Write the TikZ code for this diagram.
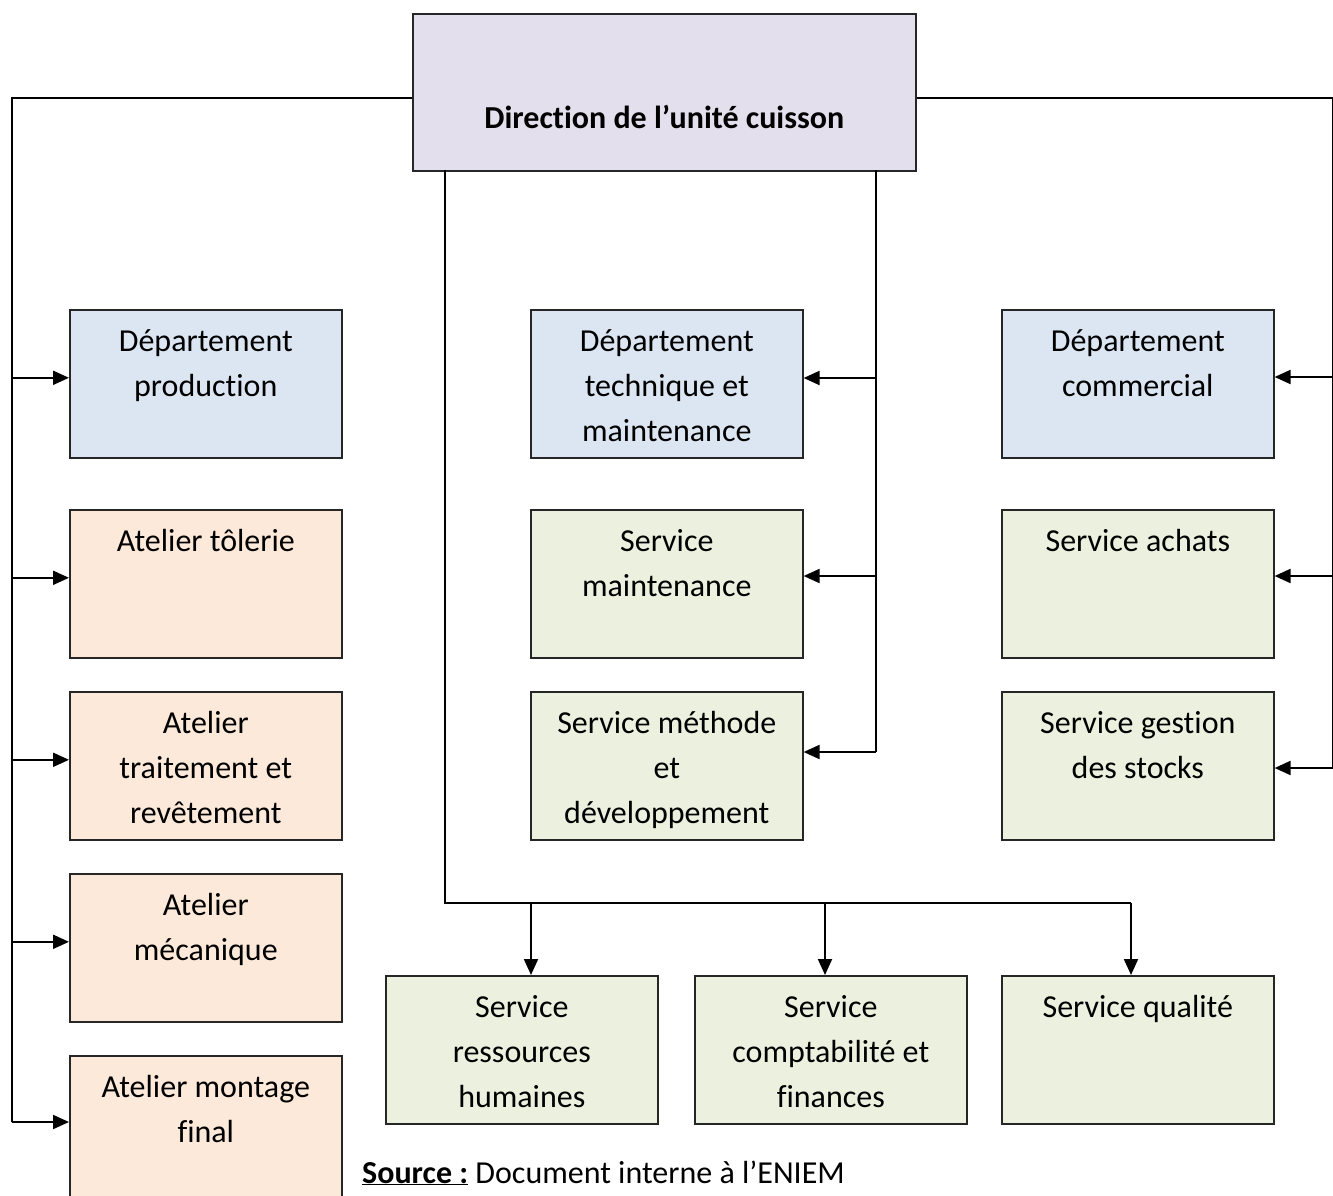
\documentclass[tikz,border=0pt]{standalone}
\usepackage{fontspec}
\setmainfont[Ligatures={NoCommon}]{Carlito}
\usetikzlibrary{arrows.meta}
\definecolor{lavf}{HTML}{E4DFEC}
\definecolor{bluef}{HTML}{DCE6F2}
\definecolor{peachf}{HTML}{FDE9D9}
\definecolor{greenf}{HTML}{EBF1DE}
\newcommand{\firstline}{\rule{0pt}{30pt}}
\begin{document}
\begin{tikzpicture}[x=1pt,y=-1pt,
  box/.style={draw=black!85, line width=1.6pt, inner sep=0pt, minimum width=272pt, minimum height=148pt, anchor=north west},
  txt/.style={align=center, anchor=north, inner sep=0pt, font=\fontsize{32}{45}\selectfont},
  conn/.style={draw=black, line width=2pt},
  arr/.style={conn, -{Triangle[length=16pt,width=14pt]}}]
\clip (0,0) rectangle (1333,1196);
% top
\node[draw=black!85, line width=1.6pt, fill=lavf, minimum width=503pt, minimum height=157pt, anchor=north west, inner sep=0pt] (dir) at (412,13) {};
\node[align=center, anchor=base, inner sep=0pt, font=\fontsize{32}{45}\selectfont\bfseries] at ([yshift=-36pt]dir.center) {Direction de l’unité cuisson};
% left column
\node[box, fill=bluef] (prod) at (69,309) {};
\node[box, fill=peachf] (tol) at (69,509) {};
\node[box, fill=peachf] (trait) at (69,691) {};
\node[box, fill=peachf] (meca) at (69,873) {};
\node[box, fill=peachf] (mont) at (69,1055) {};
% middle column
\node[box, fill=bluef] (tech) at (530,309) {};
\node[box, fill=greenf] (maint) at (530,509) {};
\node[box, fill=greenf] (meth) at (530,691) {};
% right column
\node[box, fill=bluef] (comm) at (1001,309) {};
\node[box, fill=greenf] (achat) at (1001,509) {};
\node[box, fill=greenf] (stock) at (1001,691) {};
% bottom row
\node[box, fill=greenf] (rh) at (385,975) {};
\node[box, fill=greenf] (compta) at (694,975) {};
\node[box, fill=greenf] (qual) at (1001,975) {};
% texts
\node[txt] at ([yshift=-12pt]prod.north) {\firstline Département\\production};
\node[txt] at ([yshift=-12pt]tol.north) {\firstline Atelier tôlerie};
\node[txt] at ([yshift=-12pt]trait.north) {\firstline Atelier\\traitement et\\revêtement};
\node[txt] at ([yshift=-12pt]meca.north) {\firstline Atelier\\mécanique};
\node[txt] at ([yshift=-12pt]mont.north) {\firstline Atelier montage\\final};
\node[txt] at ([yshift=-12pt]tech.north) {\firstline Département\\technique et\\maintenance};
\node[txt] at ([yshift=-12pt]maint.north) {\firstline Service\\maintenance};
\node[txt] at ([yshift=-12pt]meth.north) {\firstline Service méthode\\et\\développement};
\node[txt] at ([yshift=-12pt]comm.north) {\firstline Département\\commercial};
\node[txt] at ([yshift=-12pt]achat.north) {\firstline Service achats};
\node[txt] at ([yshift=-12pt]stock.north) {\firstline Service gestion\\des stocks};
\node[txt] at ([yshift=-12pt]rh.north) {\firstline Service\\ressources\\humaines};
\node[txt] at ([yshift=-12pt]compta.north) {\firstline Service\\comptabilité et\\finances};
\node[txt] at ([yshift=-12pt]qual.north) {\firstline Service qualité};
% source
\node[anchor=base west, inner sep=0pt, font=\fontsize{32}{38}\selectfont] (src) at (362,1183) {\textbf{\underline{Source :}} Document interne à l’ENIEM};
% connector coordinates
\coordinate (lt) at (12,98);
\coordinate (rt) at (1333,98);
\coordinate (mt) at (876,170);
\coordinate (bt) at (445,170);
\coordinate (bj) at (445,903);
% left trunk
\draw[conn] (dir.west |- lt) -- (lt) -- (12,1122);
\foreach \n in {prod,tol,trait,meca}{
  \coordinate (tmp) at ([yshift=6pt]\n.west);
  \draw[arr] (tmp -| lt) -- (tmp);
}
\draw[arr] (12,1122) -- (mont.west |- 0,1122);
% right trunk
\draw[conn] (dir.east |- rt) -- (rt) -- (1333,768);
\draw[arr] (1333,377) -- (comm.east |- 0,377);
\draw[arr] (1333,576) -- (achat.east |- 0,576);
\draw[arr] (1333,768) -- (stock.east |- 0,768);
% middle trunk
\draw[conn] (mt) -- (876,752);
\draw[arr] (876,378) -- (tech.east |- 0,378);
\draw[arr] (876,576) -- (maint.east |- 0,576);
\draw[arr] (876,752) -- (meth.east |- 0,752);
% bottom trunk
\draw[conn] (bt) -- (bj) -- (1131,903);
\draw[arr] (531,903) -- (rh.north -| 531,0);
\draw[arr] (825,903) -- (compta.north -| 825,0);
\draw[arr] (1131,903) -- (qual.north -| 1131,0);
\end{tikzpicture}
\end{document}
